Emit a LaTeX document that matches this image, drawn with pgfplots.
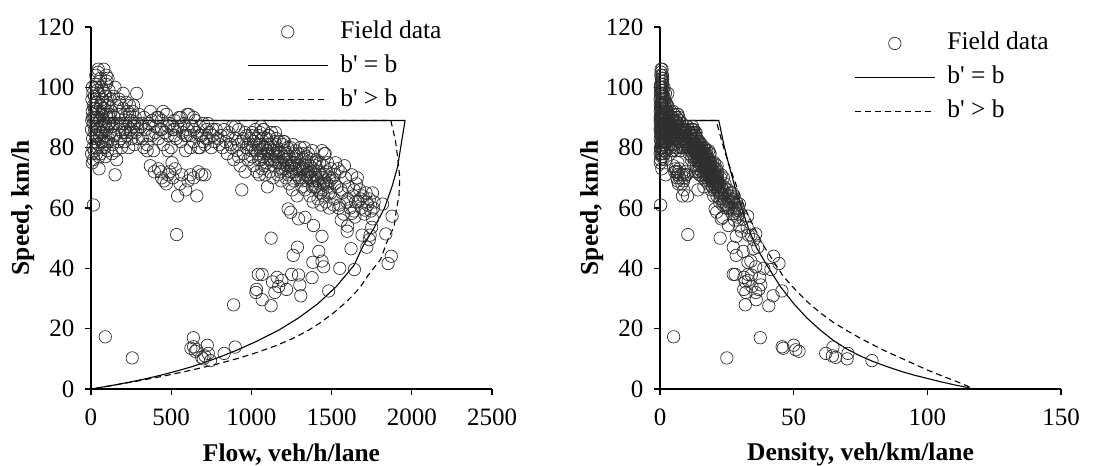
\documentclass[border=0pt]{standalone}
\usepackage{fontspec}
\setmainfont{Liberation Serif}
\usepackage{pgfplots}
\pgfplotsset{compat=1.18}
\pgfplotsset{
 myaxis/.style={
  scale only axis, width=401bp, height=362bp,
  ymin=0, ymax=120, ytick={0,20,...,120},
  axis x line*=bottom, axis y line*=left,
  tick align=outside, major tick length=6bp,
  axis line style={line width=1.2pt},
  every tick/.style={black, line width=1.2pt},
  tick label style={font=\fontsize{25bp}{29bp}\selectfont},
  xticklabel style={yshift=-10bp},
  yticklabel style={xshift=-7bp},
  label style={font=\bfseries\fontsize{25.5bp}{30bp}\selectfont},
  xlabel style={at={(axis description cs:0.5,-0.182)}, anchor=center},
  ylabel style={at={(axis description cs:-0.170,0.5)}, anchor=center},
  /pgf/number format/assume math mode=true,
  /pgf/number format/1000 sep={},
  clip=false,
  legend cell align=left,
  legend style={draw=none, fill=none, inner sep=0pt, font=\fontsize{25.5bp}{30bp}\selectfont, row sep=6.5bp, column sep=10bp, nodes={inner sep=2bp, text height=18bp, text depth=5.5bp}},
 },
 field/.style={only marks, mark=o, mark size=6.2bp, draw=black!82, mark options={line width=0.7pt},
   legend image code/.code={\path (0bp,0bp) (80bp,0bp); \draw[mark repeat=2,mark phase=2,##1] plot coordinates {(0bp,0bp) (40bp,0bp) (80bp,0bp)};}},
 solidc/.style={black, line width=1.1pt, mark=none, legend image code/.code={\draw[##1] (0bp,0bp) -- (80bp,0bp);}},
 dashc/.style={black, line width=1.1pt, mark=none, dash pattern=on 6bp off 4bp, legend image code/.code={\draw[##1] (0bp,0bp) -- (80bp,0bp);}},
}
\begin{document}
\begin{tikzpicture}
\useasboundingbox (-91bp,-77bp) rectangle (1014bp,389bp);
\begin{axis}[myaxis, at={(0,0)}, anchor=south west,
  xmin=0, xmax=2500, xtick={0,500,...,2500},
  xlabel={Flow, veh/h/lane}, ylabel={Speed, km/h},
  legend style={at={(0.389,1.025)}, anchor=north west}]
\addplot[field] coordinates {
(5,89)(8,92)(3,86)(10,83)(6,96)(12,80)(4,78)(15,94)(8,100)(14,88)(18,90)(20,85)(22,97)(25,82)(20,79)(28,93)(30,87)(26,101)(32,84)(35,90)(38,95)(40,80)(42,88)(45,86)(44,105)(48,92)(50,98)(52,83)(55,89)(58,94)(60,78)(62,87)(65,100)(68,91)(70,85)(72,96)(75,82)(78,89)(80,106)(82,93)(85,80)(88,88)(90,97)(92,84)(95,91)(98,86)(100,102)(102,79)(105,94)(108,88)(110,83)(112,99)(115,90)(118,85)(120,96)(60,103)(30,104)(40,99)(70,80)(50,77)(15,76)(35,78)(90,77)(25,90)(55,84)(75,93)(100,90)(105,82)(65,95)(85,98)(15,61)(8,75)(50,73)(45,106)(106,103)(95,101)
(10,90)(20,93)(30,95)(40,84)(50,90)(60,85)(70,92)(80,87)(90,82)(100,95)(110,88)(120,91)(35,100)(55,102)(25,86)(75,99)(95,104)(65,82)(45,81)(12,98)
(125,92)(130,87)(135,81)(140,97)(145,90)(150,84)(155,79)(160,94)(165,88)(170,82)(175,96)(180,86)(185,91)(190,80)(195,85)(200,93)(205,88)(210,82)(215,90)(220,95)(225,84)(230,87)(235,80)(240,91)(245,86)(250,89)(255,83)(260,92)(265,87)(270,81)(275,90)(280,85)(285,98)(290,88)(295,83)(300,91)(150,100)(130,78)(200,98)(240,94)(160,76)(150,71)(185,83)(265,94)(215,85)
(140,88)(170,91)(190,88)(210,86)(230,92)(250,85)(270,88)(290,86)(180,95)(140,84)
(310,87)(320,83)(330,90)(340,86)(350,81)(360,88)(370,92)(380,84)(390,79)(400,87)(410,90)(420,83)(430,86)(440,89)(450,81)(460,85)(470,91)(480,84)(490,88)(500,80)(510,86)(520,89)(530,83)(540,87)(550,90)(560,82)(570,85)(580,88)(590,79)(600,86)(610,91)(620,84)(630,87)(640,82)(650,89)(660,85)(670,80)(680,87)(690,84)(700,88)(710,81)(720,86)(730,83)(740,85)(750,80)(760,84)(770,82)(780,86)(790,83)(800,81)(330,80)(450,92)(560,90)(620,80)(700,82)(380,89)(480,79)(640,90)(730,88)(590,84)(350,79)(520,84)(420,90)(600,91)(680,80)
(320,88)(360,84)(400,85)(440,86)(480,87)(520,86)(560,87)(600,84)(640,86)(680,84)(720,83)(760,86)
(370,74)(395,72)(420,73)(440,70)(455,69)(470,68)(490,72)(505,75)(510,70)(525,73)(540,64)(555,68)(565,71)(590,66)(605,69)(620,71)(640,70)(660,64)(670,72)(690,71)(710,71)(480,71)(435,72)
(810,84)(820,80)(830,86)(840,82)(850,78)(860,85)(870,81)(880,87)(890,76)(900,83)(910,79)(920,86)(930,74)(940,82)(950,78)(960,85)(970,80)(980,76)(990,83)(1000,79)(850,84)(900,87)(940,66)(880,80)(960,72)(920,77)
(950,83)(980,81)(1000,84)(920,81)(970,84)
(1005,85)(1005,77)(1015,82)(1015,74)(1025,86)(1025,79)(1035,81)(1035,72)(1045,84)(1045,76)(1055,79)(1055,85)(1065,73)(1065,81)(1075,86)(1075,77)(1085,80)(1085,71)(1095,83)(1095,75)
(1105,78)(1105,84)(1115,72)(1115,80)(1125,85)(1125,76)(1135,79)(1135,70)(1145,82)(1145,74)(1155,77)(1155,83)(1165,71)(1165,79)(1175,82)(1175,75)(1185,78)(1185,69)(1195,81)(1195,73)
(1205,76)(1205,82)(1215,70)(1215,78)(1225,80)(1225,74)(1235,77)(1235,68)(1245,80)(1245,72)(1255,75)(1255,66)(1265,69)(1265,78)(1275,79)(1275,73)(1285,76)(1285,64)(1295,78)(1295,70)
(1305,73)(1305,80)(1315,67)(1315,76)(1325,78)(1325,72)(1335,75)(1335,66)(1345,77)(1345,69)(1355,72)(1355,78)(1365,64)(1365,74)(1375,76)(1375,70)(1385,73)(1385,62)(1395,75)(1395,67)
(1405,70)(1405,76)(1415,63)(1415,72)(1425,75)(1425,68)(1435,71)(1435,61)(1445,74)(1445,66)(1455,69)(1455,78)(1465,62)(1465,72)(1475,75)(1475,67)(1485,70)(1485,60)(1495,73)(1495,65)
(1050,81)(1100,79)(1150,78)(1200,77)(1250,74)(1300,74)(1350,71)(1400,71)(1450,68)(1120,81)(1180,72)(1230,71)(1320,69)(1380,67)(1430,65)(1080,74)(1100,67)(1050,71)(1150,85)(1060,87)(1075,86)(1110,84)(1200,82)(1260,81)(1330,80)(1380,79)(1440,79)(1460,78)
(1010,80)(1030,83)(1040,78)(1070,80)(1090,78)(1110,76)(1130,78)(1140,76)(1160,75)(1170,77)(1190,75)(1210,73)(1220,76)(1240,74)(1260,72)(1270,75)(1280,71)(1290,73)(1310,70)(1320,73)(1340,71)(1360,70)(1370,72)(1390,69)(1400,67)(1410,69)(1420,66)(1440,70)(1450,64)(1470,68)(1480,65)(1490,69)(1060,76)(1100,81)(1160,80)(1210,79)(1280,77)(1340,74)(1400,74)(1460,71)
(1505,70)(1515,63)(1525,75)(1535,67)(1545,60)(1555,72)(1565,65)(1575,58)(1585,70)(1595,62)(1605,67)(1615,60)(1625,71)(1635,64)(1645,57)(1655,68)(1665,62)(1675,66)(1685,60)(1695,64)(1705,58)(1715,65)(1725,61)(1735,63)(1745,59)(1755,65)(1765,62)(1560,56)(1600,54)(1640,59)(1520,68)(1580,74)(1660,70)(1540,73)
(1520,71)(1560,66)(1600,63)(1640,66)(1680,63)(1720,62)(1760,60)
(1229,59.7)(1245,58.6)(1294,56.4)(1334,56.9)(1387,54.2)(1626,58.2)(1709,59.3)(1755,56.4)(1818,61.3)(1877,57.3)(1512,61)(1550,61)(1650,62)
(534,51.2)(89,17.3)(257,10.3)(638,17)(623,13.5)(640,14)(650,12.5)(660,13)(725,14.5)(731,11.8)(690,10.5)(700,10)(710,11)(745,9.4)(830,11.8)(899,13.9)(889,27.9)(1123,50)(1287,47)(1261,44.3)(1043,38)(1067,38)(1132,35.5)(1160,37)(1190,36)(1028,32)(1032,33)(1067,29.6)(1123,27.6)(1146,32)(1170,34)(1219,33)(1251,38)(1294,37.8)(1302,34.5)(1308,30.9)(1378,36.9)(1383,42)(1440,42.4)(1450,40.5)(1420,45.6)(1440,50.6)(1482,32.5)(1551,40)(1597,52.3)(1621,46.5)(1642,39.6)(1690,51)(1720,47)(1735,49.5)(1750,53.6)(1740,51)(1838,51.4)(1872,44)(1852,41.6)
};
\addlegendentry{Field data}
\addplot[solidc] coordinates {(0,89)(1958,89)(1932,80.5)(1911,73.5)(1876,67)(1830,60)(1765.5,53.5)(1692,47)(1640,41)(1530,34)(1415,28.3)(1292.5,23.5)(1170,19.5)(1040,16)(924,13.2)(817.5,10.9)(720,9)(629,7.4)(531,5.9)(437,4.6)(350,3.5)(252,2.4)(154,1.4)(57.5,0.5)(0,0)};
\addlegendentry{b\textquotesingle{} = b}
\addplot[dashc] coordinates {(0,89)(1869,89)(1897.5,82.5)(1912.5,76.5)(1925,70)(1920,64)(1904,59.5)(1890,54)(1843,48.5)(1806,43)(1725,37.5)(1675,33.5)(1595,29)(1512,25.2)(1430,22)(1351,19.3)(1260,16.8)(1160,14.5)(1045.5,12.3)(927,10.3)(788.5,8.3)(630,6.3)(472.5,4.5)(308,2.8)(115,1)(0,0)};
\addlegendentry{b\textquotesingle{} > b}
\end{axis}
\begin{axis}[myaxis, at={(569bp,0)}, anchor=south west,
  xmin=0, xmax=150, xtick={0,50,100,150},
  xlabel={Density, veh/km/lane}, ylabel={Speed, km/h},
  legend style={at={(0.484,0.993)}, anchor=north west}]
\addplot[field] coordinates {
(0.06,89)(0.09,92)(0.03,86)(0.12,83)(0.06,96)(0.15,80)(0.05,78)(0.16,94)(0.08,100)(0.16,88)(0.2,90)(0.24,85)(0.23,97)(0.3,82)(0.25,79)(0.3,93)(0.34,87)(0.26,101)(0.38,84)(0.39,90)(0.4,95)(0.5,80)(0.48,88)(0.52,86)(0.42,105)(0.52,92)(0.51,98)(0.63,83)(0.62,89)(0.62,94)(0.77,78)(0.71,87)(0.65,100)(0.75,91)(0.82,85)(0.75,96)(0.91,82)(0.88,89)(0.75,106)(0.88,93)(1.06,80)(1.0,88)(0.93,97)(1.1,84)(1.04,91)(1.14,86)(0.98,102)(1.29,79)(1.12,94)(1.23,88)(1.33,83)(1.13,99)(1.28,90)(1.39,85)(1.25,96)(0.58,103)(0.29,104)(0.4,99)(0.875,80)(0.65,77)(0.2,76)(0.45,78)(1.17,77)(0.28,90)(0.65,84)(0.81,93)(1.11,90)(1.28,82)(0.68,95)(0.87,98)(0.25,61)(0.11,75)(0.68,73)(0.42,106)(1.03,103)(0.94,101)
(0.11,90)(0.22,93)(0.32,95)(0.48,84)(0.56,90)(0.7,85)(0.76,92)(0.92,87)(1.1,82)(1.05,95)(1.25,88)(1.32,91)(0.35,100)(0.54,102)(0.29,86)(0.76,99)(0.91,104)(0.79,82)(0.56,81)(0.12,98)
(1.36,92)(1.49,87)(1.67,81)(1.44,97)(1.61,90)(1.79,84)(1.96,79)(1.7,94)(1.875,88)(2.07,82)(1.82,96)(2.09,86)(2.03,91)(2.375,80)(2.29,85)(2.15,93)(2.33,88)(2.56,82)(2.39,90)(2.32,95)(2.68,84)(2.64,87)(2.94,80)(2.64,91)(2.85,86)(2.81,89)(3.07,83)(2.83,92)(3.05,87)(3.33,81)(3.06,90)(3.29,85)(2.91,98)(3.3,88)(3.55,83)(3.3,91)(1.5,100)(1.67,78)(2.04,98)(2.55,94)(2.1,76)(2.1,71)(2.23,83)(2.82,94)(2.53,85)
(1.59,88)(1.87,91)(2.16,88)(2.44,86)(2.5,92)(2.94,85)(3.07,88)(3.37,86)(1.89,95)(1.67,84)
(3.6,87)(3.9,83)(3.7,90)(4.0,86)(4.3,81)(4.1,88)(4.0,92)(4.5,84)(4.9,79)(4.6,87)(4.6,90)(5.1,83)(5.0,86)(4.9,89)(5.6,81)(5.4,85)(5.2,91)(5.7,84)(5.6,88)(6.25,80)(5.9,86)(5.8,89)(6.4,83)(6.2,87)(6.1,90)(6.8,82)(6.7,85)(6.6,88)(7.5,79)(7.0,86)(6.7,91)(7.4,84)(7.2,87)(7.8,82)(7.3,89)(7.8,85)(8.4,80)(7.8,87)(8.2,84)(8.0,88)(8.8,81)(8.4,86)(8.8,83)(8.7,85)(9.4,80)(9.0,84)(9.4,82)(9.1,86)(9.5,83)(9.9,81)(4.1,80)(4.9,92)(6.2,90)(7.75,80)(8.5,82)(4.3,89)(6.1,79)(7.1,90)(8.3,88)(7.0,84)(4.4,79)(6.2,84)(4.7,90)(6.6,91)(8.5,80)
(3.6,88)(4.3,84)(4.7,85)(5.1,86)(5.5,87)(6.0,86)(6.4,87)(7.1,84)(7.4,86)(8.1,84)(8.7,83)(8.8,86)
(5.0,74)(5.5,72)(5.75,73)(6.3,70)(6.6,69)(6.9,68)(6.8,72)(6.7,75)(7.3,70)(7.2,73)(8.4,64)(8.2,68)(8.0,71)(8.9,66)(8.8,69)(8.7,71)(9.1,70)(10.3,64)(9.3,72)(9.7,71)(10.0,71)(6.8,71)(6.0,72)
(9.6,84)(10.25,80)(9.7,86)(10.2,82)(10.9,78)(10.1,85)(10.7,81)(10.1,87)(11.7,76)(10.8,83)(11.5,79)(10.7,86)(12.6,74)(11.5,82)(12.2,78)(11.3,85)(12.1,80)(12.9,76)(11.9,83)(12.7,79)(10.1,84)(10.3,87)(14.2,66)(11,80)(13.3,72)(11.9,77)
(11.4,83)(12.1,81)(11.9,84)(11.4,81)(11.5,84)
(11.8,85)(13.05,77)(12.4,82)(13.7,74)(11.9,86)(13.0,79)(12.8,81)(14.4,72)(12.4,84)(13.75,76)(13.35,79)(12.4,85)(14.6,73)(13.1,81)(12.5,86)(14.0,77)(13.6,80)(15.3,71)(13.2,83)(14.6,75)
(14.2,78)(13.2,84)(15.5,72)(13.9,80)(13.2,85)(14.8,76)(14.4,79)(16.2,70)(14.0,82)(15.5,74)(15.0,77)(13.9,83)(16.4,71)(14.7,79)(14.3,82)(15.7,75)(15.2,78)(17.2,69)(14.75,81)(16.4,73)
(15.9,76)(14.7,82)(17.4,70)(15.6,78)(15.3,80)(16.55,74)(16.0,77)(18.2,68)(15.6,80)(17.3,72)(16.7,75)(19.0,66)(18.3,69)(16.2,78)(16.1,79)(17.5,73)(16.9,76)(20.1,64)(16.6,78)(18.5,70)
(17.9,73)(16.3,80)(19.6,67)(17.3,76)(17.0,78)(18.4,72)(17.8,75)(20.2,66)(17.5,77)(19.5,69)(18.8,72)(17.4,78)(21.3,64)(18.4,74)(18.1,76)(19.6,70)(19.0,73)(22.3,62)(18.6,75)(20.8,67)
(20.1,70)(18.5,76)(22.5,63)(19.65,72)(19.0,75)(21.0,68)(20.2,71)(23.5,61)(19.5,74)(21.9,66)(21.1,69)(18.65,78)(23.6,62)(20.35,72)(19.7,75)(22.0,67)(21.2,70)(24.75,60)(20.5,73)(23.0,65)
(13.0,81)(13.9,79)(14.7,78)(15.6,77)(16.9,74)(17.6,74)(19.0,71)(19.7,71)(21.3,68)(13.8,81)(16.4,72)(17.3,71)(19.1,69)(20.6,67)(22.0,65)(14.6,74)(16.4,67)(14.8,71)(13.5,85)(12.2,87)(12.5,86)(13.2,84)(14.6,82)(15.6,81)(16.6,80)(17.5,79)(18.2,79)(18.7,78)
(12.6,80)(12.4,83)(13.3,78)(13.4,80)(14.0,78)(14.6,76)(14.5,78)(15.0,76)(15.5,75)(15.2,77)(15.9,75)(16.6,73)(16.1,76)(16.8,74)(17.5,72)(16.9,75)(18.0,71)(17.7,73)(18.7,70)(18.1,73)(18.9,71)(19.4,70)(19.0,72)(20.1,69)(20.9,67)(20.4,69)(21.5,66)(20.6,70)(22.7,64)(21.6,68)(22.8,65)(21.6,69)(13.9,76)(13.6,81)(14.5,80)(15.3,79)(16.6,77)(18.1,74)(18.9,74)(20.6,71)
(21.5,70)(24.0,63)(20.3,75)(22.9,67)(25.75,60)(21.6,72)(24.1,65)(27.2,58)(22.6,70)(25.7,62)(24.0,67)(26.9,60)(22.9,71)(25.5,64)(28.9,57)(24.3,68)(26.9,62)(25.4,66)(28.1,60)(26.5,64)(29.4,58)(26.4,65)(28.3,61)(27.5,63)(29.6,59)(27.0,65)(28.5,62)(27.9,56)(29.6,54)(27.8,59)(22.35,68)(21.35,74)(23.7,70)(21.1,73)
(21.4,71)(23.6,66)(25.4,63)(24.8,66)(26.7,63)(27.7,62)(29.3,60)
(20.6,59.7)(21.2,58.6)(22.9,56.4)(23.4,56.9)(25.6,54.2)(27.9,58.2)(28.8,59.3)(31.1,56.4)(29.7,61.3)(32.8,57.3)(24.8,61)(25.4,61)(26.6,62)
(10.4,51.2)(5.1,17.3)(25,10.3)(37.5,17)(46.1,13.5)(45.7,14)(52,12.5)(50.8,13)(50,14.5)(62,11.8)(65.7,10.5)(70,10)(64.5,11)(79.3,9.4)(70.3,11.8)(64.7,13.9)(31.9,27.9)(22.5,50)(27.4,47)(28.5,44.3)(27.4,38)(28.1,38)(31.9,35.5)(31.4,37)(33,36)(32.1,32)(31.3,33)(36,29.6)(40.7,27.6)(35.8,32)(34.4,34)(36.9,33)(32.9,38)(34.2,37.8)(37.7,34.5)(42.3,30.9)(37.3,36.9)(32.9,42)(34,42.4)(35.8,40.5)(31.1,45.6)(28.5,50.6)(45.6,32.5)(38.8,40)(30.5,52.3)(34.9,46.5)(41.5,39.6)(33.1,51)(36.6,47)(35.1,49.5)(32.6,53.6)(34.1,51)(35.8,51.4)(42.5,44)(44.5,41.6)
};
\addlegendentry{Field data}
\addplot[solidc] coordinates {(0,89)(22,89)(24,80.5)(26,73.5)(28,67)(30.5,60)(33,53.5)(36,47)(40,41)(45,34)(50,28.3)(55,23.5)(60,19.5)(65,16)(70,13.2)(75,10.9)(80,9.0)(85,7.4)(90,5.9)(95,4.6)(100,3.5)(105,2.4)(110,1.4)(115,0.5)(117,0)};
\addlegendentry{b\textquotesingle{} = b}
\addplot[dashc] coordinates {(0,89)(21,89)(23,82.5)(25,76.5)(27.5,70)(30,64)(32,59.5)(35,54)(38,48.5)(42,43)(46,37.5)(50,33.5)(55,29)(60,25.2)(65,22)(70,19.3)(75,16.8)(80,14.5)(85,12.3)(90,10.3)(95,8.3)(100,6.3)(105,4.5)(110,2.8)(115,1)(117,0)};
\addlegendentry{b\textquotesingle{} > b}
\end{axis}
\end{tikzpicture}
\end{document}
